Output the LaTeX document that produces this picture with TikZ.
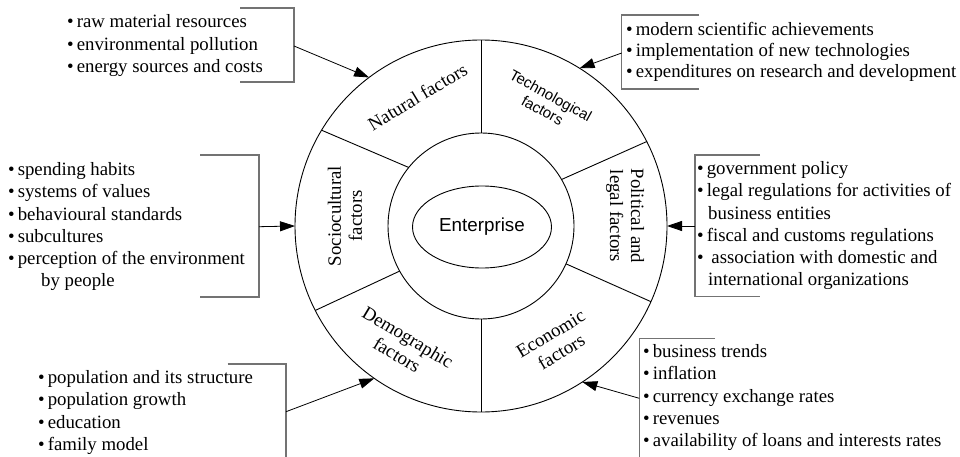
\documentclass[tikz,border=0pt]{standalone}
\usepackage{fontspec}
\setmainfont{Liberation Serif}
\setsansfont{Liberation Sans}
\usetikzlibrary{shapes.geometric,arrows.meta,calc}
\newcommand{\bul}{\textbullet\hspace{3pt}}
\begin{document}
\begin{tikzpicture}[x=1pt,y=1pt,
  ring/.style={circle,draw,line width=0.9pt,inner sep=0pt,outer sep=0pt},
  bracket/.style={draw=black!55,line width=1.1pt},
  arr/.style={line width=0.8pt,-{Triangle[length=15pt,width=10pt]}},
  list/.style={anchor=north west,inner sep=0pt,align=left,font=\fontsize{18.8}{22.3}\selectfont},
  lab/.style={inner sep=0pt,align=center,font=\fontsize{18.8}{21}\selectfont},
  slab/.style={inner sep=0pt,align=center,font=\sffamily\fontsize{15}{17}\selectfont},
  div/.style={line width=0.9pt}]
\useasboundingbox (0,-457) rectangle (960,0);
% rings
\node[ring,minimum size=372pt] (outer) at (481,-226) {};
\node[ring,minimum size=186pt] (inner) at (481,-226) {};
\node[ellipse,draw,line width=0.9pt,minimum width=139pt,minimum height=82pt,inner sep=0pt,
      font=\sffamily\fontsize{18.8}{22}\selectfont] (ent) at (482,-227) {Enterprise};
% dividers
\draw[div] (inner.90) -- (outer.90);
\draw[div] (inner.270) -- (outer.270);
\draw[div] (inner.141) -- (outer.149);
\draw[div] (inner.30) -- (outer.27);
\draw[div] (inner.209) -- (outer.207);
\draw[div] (inner.336) -- (outer.336);
% sector labels
\node[lab,rotate=31] (nat) at (417.5,-96.7) {Natural factors};
\node[slab,rotate=-29] (tech) at (546.7,-103) {Technological\\factors};
\node[lab,rotate=-90] (pol) at (625,-216) {Political and\\legal factors};
\node[lab,rotate=90] (soc) at (345,-216) {Sociocultural\\factors};
\node[lab,rotate=-31] (dem) at (402.5,-346) {Demographic\\factors};
\node[lab,rotate=31] (eco) at (556,-343) {Economic\\factors};
% lists
\node[list] (natl) at (67,-12) {\strut\bul raw material resources\\ \bul environmental pollution\\ \bul energy sources and costs};
\node[list,font=\fontsize{18.8}{21}\selectfont] (techl) at (626,-20.5) {\strut\bul modern scientific achievements\\ \bul implementation of new technologies\\ \bul expenditures on research and development};
\node[list] (socl) at (8,-159.6) {\strut\bul spending habits\\ \bul systems of values\\ \bul behavioural standards\\ \bul subcultures\\ \bul perception of the environment\\ \hspace*{33pt}by people};
\node[list] (poll) at (697,-158.6) {\strut\bul government policy\\ \bul legal regulations for activities of\\ \hspace*{11pt}business entities\\ \bul fiscal and customs regulations\\ \bul\ association with domestic and\\ \hspace*{11pt}international organizations};
\node[list] (deml) at (38,-367.6) {\strut\bul population and its structure\\ \bul population growth\\ \bul education\\ \bul family model};
\node[list] (ecol) at (643,-341.6) {\strut\bul business trends\\ \bul inflation\\ \bul currency exchange rates\\ \bul revenues\\ \bul availability of loans and interests rates};
% brackets
\coordinate (b1) at (294,-46);
\coordinate (b2) at (621.7,-53);
\coordinate (b3) at (259,-226.7);
\coordinate (b4) at (695,-226);
\coordinate (b5) at (286,-411.7);
\coordinate (b6) at (639.3,-398.3);
\draw[bracket] (240,-8) -- (294,-8) -- (294,-82) -- (240,-82);
\draw[bracket] (699,-15) -- (621.7,-15) -- (621.7,-89) -- (699,-89);
\draw[bracket] (200,-155) -- (259,-155) -- (259,-297) -- (200,-297);
\draw[bracket] (760,-155) -- (695,-155) -- (695,-296.7) -- (760,-296.7);
\draw[bracket] (227.7,-364) -- (286,-364) -- (286,-457);
\draw[bracket] (715,-338.3) -- (639.3,-338.3) -- (639.3,-457);
% arrows
\draw[arr] (b1) -- (outer.127);
\draw[arr] (b2) -- (outer.58);
\draw[arr] (b3) -- (outer.180);
\draw[arr] (b4) -- (outer.0);
\draw[arr] (b5) -- (outer.235);
\draw[arr] (b6) -- (outer.303);
\end{tikzpicture}
\end{document}
